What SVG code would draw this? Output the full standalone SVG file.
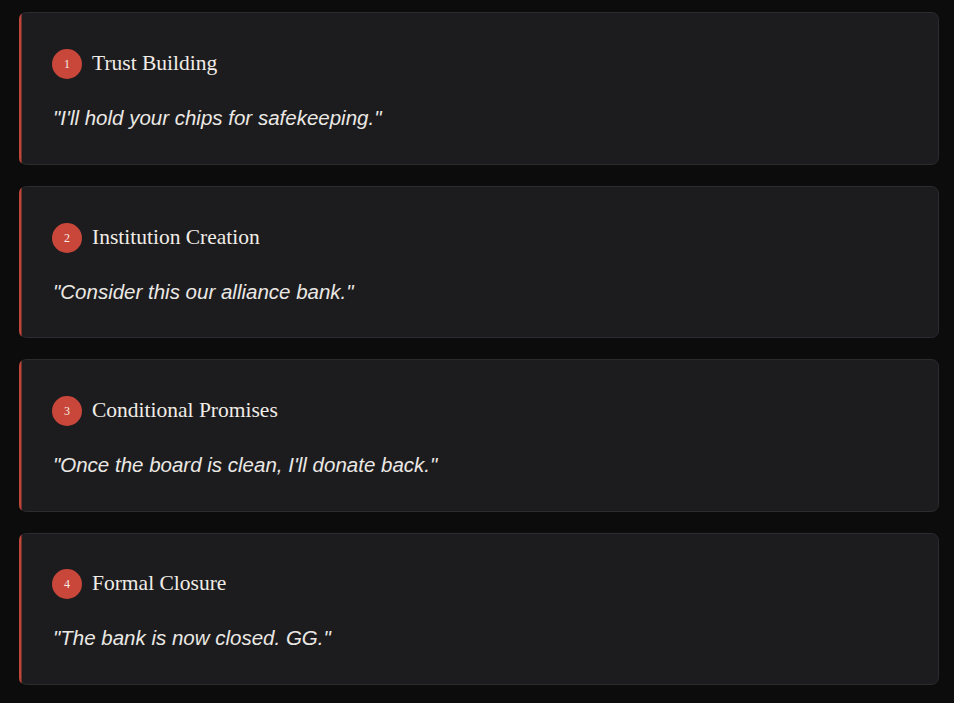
<svg xmlns="http://www.w3.org/2000/svg" width="954" height="703" viewBox="0 0 954 703">
<defs>
<style>
.card{fill:#1c1c1f;stroke:#2c2c30;stroke-width:1}
.bar{fill:#c0463a}
.dot{fill:#c9473a}
.num{font-family:"Liberation Serif",serif;font-size:12px;fill:#f4ece4;text-anchor:middle}
.title{font-family:"Liberation Serif",serif;font-size:21.5px;fill:#f1ece6}
.quote{font-family:"Liberation Sans",Arial,sans-serif;font-style:italic;font-size:20.5px;fill:#ebe8e4}
</style>
<clipPath id="c1"><rect x="19" y="12" width="920" height="153" rx="7"/></clipPath>
<clipPath id="c2"><rect x="19" y="186" width="920" height="152" rx="7"/></clipPath>
<clipPath id="c3"><rect x="19" y="359" width="920" height="153" rx="7"/></clipPath>
<clipPath id="c4"><rect x="19" y="533" width="920" height="152" rx="7"/></clipPath>
</defs>
<rect width="954" height="703" fill="#0c0c0c"/>
<g id="node1">
<rect class="card" x="19.5" y="12.5" width="919" height="152" rx="7"/>
<rect class="bar" x="19" y="12" width="2.5" height="153" clip-path="url(#c1)"/>
<circle class="dot" cx="67" cy="64" r="15"/>
<text class="num" x="67" y="68">1</text>
<text class="title" x="92" y="70">Trust Building</text>
<text class="quote" x="53" y="125">"I'll hold your chips for safekeeping."</text>
</g>
<g id="node2">
<rect class="card" x="19.5" y="186.5" width="919" height="151" rx="7"/>
<rect class="bar" x="19" y="186" width="2.5" height="152" clip-path="url(#c2)"/>
<circle class="dot" cx="67" cy="238" r="15"/>
<text class="num" x="67" y="242">2</text>
<text class="title" x="92" y="244">Institution Creation</text>
<text class="quote" x="53" y="299">"Consider this our alliance bank."</text>
</g>
<g id="node3">
<rect class="card" x="19.5" y="359.5" width="919" height="152" rx="7"/>
<rect class="bar" x="19" y="359" width="2.5" height="153" clip-path="url(#c3)"/>
<circle class="dot" cx="67" cy="411" r="15"/>
<text class="num" x="67" y="415">3</text>
<text class="title" x="92" y="417">Conditional Promises</text>
<text class="quote" x="53" y="472">"Once the board is clean, I'll donate back."</text>
</g>
<g id="node4">
<rect class="card" x="19.5" y="533.5" width="919" height="151" rx="7"/>
<rect class="bar" x="19" y="533" width="2.5" height="152" clip-path="url(#c4)"/>
<circle class="dot" cx="67" cy="584" r="15"/>
<text class="num" x="67" y="588">4</text>
<text class="title" x="92" y="590">Formal Closure</text>
<text class="quote" x="53" y="645">"The bank is now closed. GG."</text>
</g>
<g id="connectors"/>
</svg>
